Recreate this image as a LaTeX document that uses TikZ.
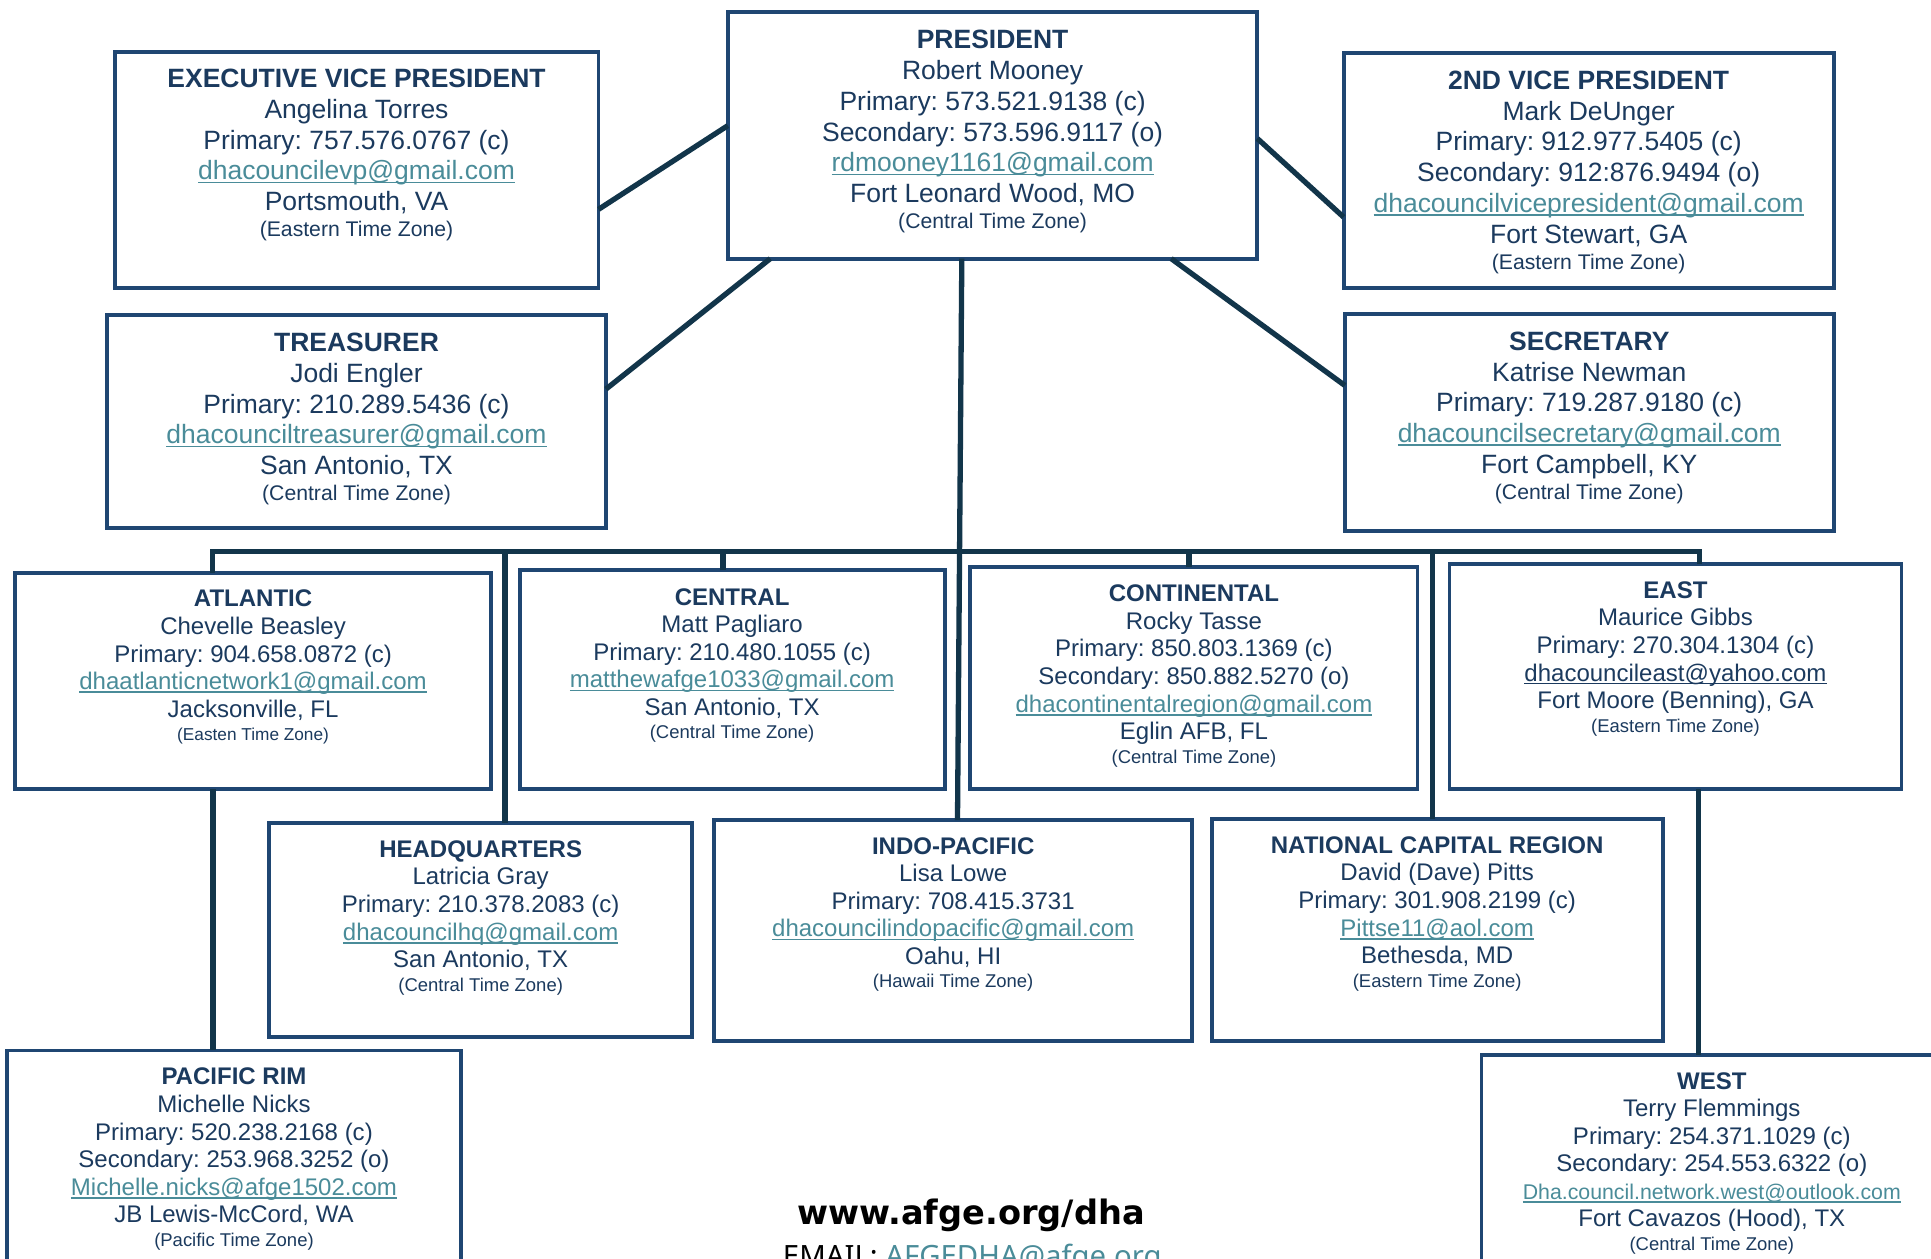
\documentclass[tikz,border=0pt]{standalone}
\usepackage{fontspec}
\setmainfont{Liberation Sans}
\newfontfamily\footfont{Noto Sans}
\newfontfamily\footbold{DejaVu Sans}[UprightFont=*-Bold]
\usetikzlibrary{calc}
\definecolor{textnavy}{HTML}{1B3A5E}
\definecolor{boxblue}{HTML}{1F4672}
\definecolor{linecol}{HTML}{12354A}
\definecolor{mailteal}{HTML}{4A8C99}
\newsavebox\ulsave
\newcommand\ulx[1]{\sbox\ulsave{#1}\rlap{\rule[-2.8pt]{\wd\ulsave}{1.4pt}}\usebox\ulsave}
\newcommand\eml[1]{\textcolor{mailteal}{\ulx{#1}}}
\newcommand\emd[1]{\ulx{#1}}
\newcommand\tzA[1]{{\fontsize{17.2}{20}\selectfont\raisebox{4pt}{#1}}}
\newcommand\tzB[1]{{\fontsize{15}{18}\selectfont\raisebox{3.4pt}{#1}}}
\newcommand\tzC[1]{{\fontsize{14}{17}\selectfont\raisebox{3.4pt}{#1}}}
\newcommand\bigtxt{\fontsize{21.5}{25}\selectfont}
\newcommand\regtxt{\fontsize{19.5}{22}\selectfont}
\newcommand\infobox[6]{%
  \foreach \tx [count=\ii] in {#6} {
    \node[txt, font=#5] (#1-\ii) at (#2, {#3+(\ii-1)*#4}) {\tx};
  }%
}
\tikzset{
  box/.style={draw=boxblue, line width=3.2pt, rectangle, inner sep=0pt, outer sep=0pt, fill=white},
  link/.style={draw=linecol, line width=4.3pt},
  txt/.style={inner sep=0pt, outer sep=0pt, text=textnavy, anchor=base},
}
\frenchspacing
\begin{document}
\frenchspacing
\begin{tikzpicture}[x=1pt, y=-1pt]
\useasboundingbox (0,0) rectangle (1568,1022);
\clip (0,0) rectangle (1568,1022);
\fill[white] (0,0) rectangle (1568,1022);

% boxes
\node[box, minimum width=430pt, minimum height=200pt] (pres) at (806,110) {};
\node[box, minimum width=393pt, minimum height=192pt] (evp) at (289.5,138) {};
\node[box, minimum width=398pt, minimum height=191pt] (vp2) at (1290,138.5) {};
\node[box, minimum width=405pt, minimum height=173pt] (treas) at (289.5,342.5) {};
\node[box, minimum width=397pt, minimum height=176pt] (sec) at (1290.5,343) {};
\node[box, minimum width=387pt, minimum height=176pt] (atl) at (205.5,553) {};
\node[box, minimum width=345pt, minimum height=177.7pt] (cen) at (594.5,551.9) {};
\node[box, minimum width=363pt, minimum height=180.7pt] (cont) at (969.5,550.4) {};
\node[box, minimum width=367pt, minimum height=182.5pt] (east) at (1360.5,549.3) {};
\node[box, minimum width=343.5pt, minimum height=174pt] (hq) at (390.3,755) {};
\node[box, minimum width=388pt, minimum height=179pt] (indo) at (774,755.5) {};
\node[box, minimum width=366pt, minimum height=180pt] (ncr) at (1167,755) {};
\node[box, minimum width=368pt, minimum height=247pt] (pac) at (190,976.5) {};
\node[box, minimum width=374pt, minimum height=243pt] (west) at (1390,978.5) {};

% texts
\infobox{prest}{806}{39.5}{25}{\bigtxt}{{\textbf{PRESIDENT}},{Robert Mooney},{Primary: 573.521.9138 (c)},{Secondary: 573.596.9117 (o)},{\eml{rdmooney1161@gmail.com}},{Fort Leonard Wood, MO},{\tzA{(Central Time Zone)}}}
\infobox{evpt}{289.5}{71}{25}{\bigtxt}{{\textbf{EXECUTIVE VICE PRESIDENT}},{Angelina Torres},{Primary: 757.576.0767 (c)},{\eml{dhacouncilevp@gmail.com}},{Portsmouth, VA},{\tzA{(Eastern Time Zone)}}}
\infobox{vptt}{1290}{72.5}{25}{\bigtxt}{{\textbf{2ND VICE PRESIDENT}},{Mark DeUnger},{Primary: 912.977.5405 (c)},{Secondary: 912:876.9494 (o)},{\eml{dhacouncilvicepresident@gmail.com}},{Fort Stewart, GA},{\tzA{(Eastern Time Zone)}}}
\infobox{treast}{289.5}{285.5}{25}{\bigtxt}{{\textbf{TREASURER}},{Jodi Engler},{Primary: 210.289.5436 (c)},{\eml{dhacounciltreasurer@gmail.com}},{San Antonio, TX},{\tzA{(Central Time Zone)}}}
\infobox{sect}{1290.5}{284.5}{25}{\bigtxt}{{\textbf{SECRETARY}},{Katrise Newman},{Primary: 719.287.9180 (c)},{\eml{dhacouncilsecretary@gmail.com}},{Fort Campbell, KY},{\tzA{(Central Time Zone)}}}

\infobox{atlt}{205.5}{492.8}{22.4}{\regtxt}{{\textbf{ATLANTIC}},{Chevelle Beasley},{Primary: 904.658.0872 (c)},{\eml{dhaatlanticnetwork1@gmail.com}},{Jacksonville, FL},{\tzC{(Easten Time Zone)}}}
\infobox{cent}{594.5}{491.3}{22.4}{\regtxt}{{\textbf{CENTRAL}},{Matt Pagliaro},{Primary: 210.480.1055 (c)},{\eml{matthewafge1033@gmail.com}},{San Antonio, TX},{\tzB{(Central Time Zone)}}}
\infobox{contt}{969.5}{488.6}{22.4}{\regtxt}{{\textbf{CONTINENTAL}},{Rocky Tasse},{Primary: 850.803.1369 (c)},{Secondary: 850.882.5270 (o)},{\eml{dhacontinentalregion@gmail.com}},{Eglin AFB, FL},{\tzB{(Central Time Zone)}}}
\infobox{eastt}{1360.5}{485.8}{22.4}{\regtxt}{{\textbf{EAST}},{Maurice Gibbs},{Primary: 270.304.1304 (c)},{\emd{dhacouncileast@yahoo.com}},{Fort Moore (Benning), GA},{\tzB{(Eastern Time Zone)}}}
\infobox{hqt}{390.3}{696.2}{22.4}{\regtxt}{{\textbf{HEADQUARTERS}},{Latricia Gray},{Primary: 210.378.2083 (c)},{\eml{dhacouncilhq@gmail.com}},{San Antonio, TX},{\tzB{(Central Time Zone)}}}
\infobox{indot}{774}{693.5}{22.4}{\regtxt}{{\textbf{INDO-PACIFIC}},{Lisa Lowe},{Primary: 708.415.3731},{\eml{dhacouncilindopacific@gmail.com}},{Oahu, HI},{\tzB{(Hawaii Time Zone)}}}
\infobox{ncrt}{1167}{692.9}{22.4}{\regtxt}{{\textbf{NATIONAL CAPITAL REGION}},{David (Dave) Pitts},{Primary: 301.908.2199 (c)},{\eml{Pittse11@aol.com}},{Bethesda, MD},{\tzB{(Eastern Time Zone)}}}
\infobox{pact}{190}{881}{22.4}{\regtxt}{{\textbf{PACIFIC RIM}},{Michelle Nicks},{Primary: 520.238.2168 (c)},{Secondary: 253.968.3252 (o)},{\eml{Michelle.nicks@afge1502.com}},{JB Lewis-McCord, WA},{\tzB{(Pacific Time Zone)}}}
\infobox{westt}{1390}{884.3}{22.4}{\regtxt}{{\textbf{WEST}},{Terry Flemmings},{Primary: 254.371.1029 (c)},{Secondary: 254.553.6322 (o)},{\fontsize{17.3}{20}\selectfont\eml{Dha.council.network.west@outlook.com}},{Fort Cavazos (Hood), TX},{\tzB{(Central Time Zone)}}}

% connectors
\draw[link] ([yshift=-32pt]evp.east) -- ([yshift=8pt]pres.west);
\draw[link] ([yshift=26.5pt]treas.east) -- ([xshift=-180.5pt]pres.south);
\draw[link] ([yshift=-2.5pt]pres.east) -- ([yshift=-37.8pt]vp2.west);
\draw[link] ([xshift=145pt]pres.south) -- ([yshift=30pt]sec.west);
\draw[link] ([xshift=-25pt]pres.south) -- ([xshift=3.5pt]indo.north);
\coordinate (busL) at (172.5,448);
\coordinate (busR) at (1380,448);
\draw[link] ([xshift=-33pt]atl.north) |- (busR) -- ([xshift=19.5pt]east.north);
\draw[link] ([xshift=19.7pt]hq.north) -- ([xshift=19.7pt]hq.north |- busL);
\draw[link] ([xshift=-7.5pt]cen.north) -- ([xshift=-7.5pt]cen.north |- busL);
\draw[link] ([xshift=-4pt]cont.north) -- ([xshift=-4pt]cont.north |- busL);
\draw[link] ([xshift=-3.6pt]ncr.north) -- ([xshift=-3.6pt]ncr.north |- busL);
\draw[link] ([xshift=-32.5pt]atl.south) -- ([xshift=-17pt]pac.north);
\draw[link] ([xshift=18.5pt]east.south) -- ([xshift=-11pt]west.north);

% footer
\node[anchor=base, inner sep=0pt] (web) at (788.5,994.5) {\footbold\fontsize{27.3}{32}\selectfont www.afge.org/dha};
\node[anchor=base, inner sep=0pt] (mail) at (789.5,1028) {\footfont\fontsize{23.8}{28}\selectfont EMAIL: \textcolor{mailteal}{AFGEDHA@afge.org}};
\end{tikzpicture}
\end{document}
